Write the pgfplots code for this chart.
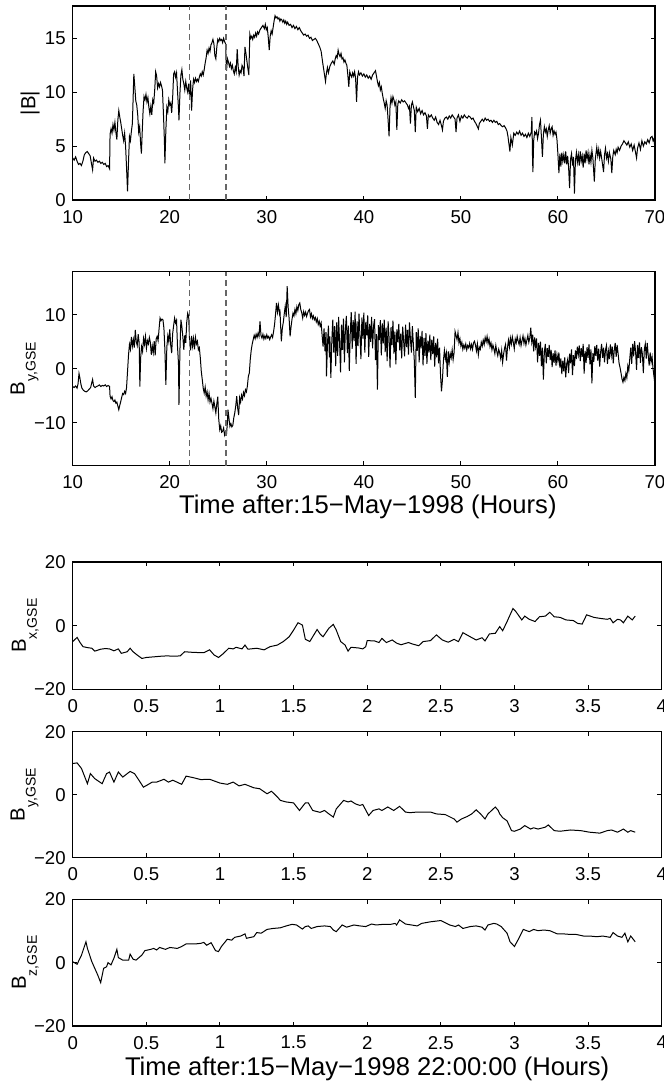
\documentclass[border=0pt]{standalone}
\usepackage{pgfplots}
\pgfplotsset{compat=1.18}
\usepackage{fontspec}
\setmainfont{Liberation Sans}

% B with a MATLAB-style lowered subscript
\newcommand{\Bsub}[1]{B\raisebox{-5.5pt}{\fontsize{7}{8}\selectfont #1}}

\pgfplotsset{
  panel/.style={
    scale only axis, anchor=north west,
    axis line style={line width=0.6pt},
    every tick/.style={black, line width=0.5pt},
    major tick length=2.2pt,
    tick align=inside, tick pos=both,
    tick label style={font=\fontsize{9.3}{10}\selectfont},
    xticklabel style={yshift=-1.5pt},
    /pgf/number format/assume math mode=true,
    label style={font=\fontsize{10.2}{12}\selectfont},
    ylabel style={anchor=south, inner sep=0pt},
    xlabel style={font=\fontsize{12.8}{14}\selectfont, at={(axis description cs:0.5,0)}, anchor=base},
  },
  trace/.style={black, line width=0.5pt, no markers},
  marker line/.style={black!60, line width=0.6pt, dash pattern=on 3pt off 2pt},
}

\begin{document}
\begin{tikzpicture}

% ---- |B| ----
\begin{axis}[panel, at={(36.35pt,-3pt)}, width=291.15pt, height=97pt,
  xmin=10, xmax=70, ymin=0, ymax=18,
  xtick={10,20,30,40,50,60,70}, ytick={0,5,10,15},
  ylabel={|B|}, ylabel style={at={(axis description cs:-0.056,0.5)}}]
\addplot[trace] coordinates {
(10.0,3.9)(10.15,3.7)(10.3,4.0)(10.45,3.6)(10.6,3.3)(10.75,3.4)(10.9,3.2)(11.05,3.6)(11.2,4.2)(11.35,4.4)
(11.5,4.5)(11.65,4.3)(11.8,4.1)(11.95,3.3)(12.05,2.8)(12.15,3.9)(12.3,3.6)(12.45,3.7)(12.6,3.5)(12.75,3.6)
(12.9,3.4)(13.05,3.5)(13.2,3.3)(13.35,3.4)(13.5,3.1)(13.65,3.2)(13.8,2.9)(13.85,6.1)(13.95,6.6)(14.05,6.2)
(14.15,7.0)(14.25,6.5)(14.35,7.2)(14.45,6.3)(14.55,5.6)(14.65,7.4)(14.75,8.3)(14.85,7.7)(14.95,7.2)(15.05,6.6)
(15.15,6.0)(15.25,5.5)(15.35,6.2)(15.45,5.0)(15.55,3.0)(15.65,0.8)(15.75,3.5)(15.85,5.9)(15.95,5.5)(16.05,6.4)
(16.15,7.1)(16.3,11.7)(16.4,10.5)(16.5,9.2)(16.6,8.8)(16.7,7.9)(16.8,6.3)(16.9,6.8)(17.0,5.2)(17.08,4.3)
(17.15,6.0)(17.25,8.2)(17.35,9.6)(17.45,9.3)(17.55,9.8)(17.65,9.1)(17.75,9.5)(17.85,8.6)(17.95,8.0)(18.05,8.7)
(18.15,7.9)(18.25,9.3)(18.35,9.0)(18.45,10.2)(18.55,11.9)(18.65,11.5)(18.75,10.4)(18.85,10.8)(18.95,10.5)(19.05,10.9)
(19.15,10.6)(19.25,10.2)(19.35,8.0)(19.45,5.5)(19.5,3.4)(19.6,6.5)(19.7,8.6)(19.8,8.2)(19.9,9.3)(20.0,8.8)
(20.1,9.0)(20.2,8.1)(20.3,9.5)(20.4,11.7)(20.5,11.9)(20.6,11.4)(20.7,11.8)(20.8,10.1)(20.9,8.5)(20.95,7.4)
(21.05,9.9)(21.15,11.6)(21.25,12.1)(21.35,11.2)(21.45,10.8)(21.55,10.2)(21.65,11.0)(21.75,10.4)(21.85,10.0)(21.95,10.8)
(22.05,9.6)(22.15,11.1)(22.25,8.3)(22.35,10.2)(22.45,11.2)(22.55,10.9)(22.65,11.3)(22.75,11.0)(22.85,11.2)(22.95,11.0)
(23.05,11.4)(23.15,11.7)(23.25,11.5)(23.35,11.9)(23.45,11.6)(23.55,12.1)(23.65,12.7)(23.75,13.2)(23.85,13.9)(23.95,13.6)
(24.05,14.1)(24.15,13.8)(24.25,14.4)(24.35,14.6)(24.45,14.9)(24.55,14.5)(24.65,13.4)(24.75,13.1)(24.85,14.2)(24.95,14.9)
(25.05,14.7)(25.15,15.0)(25.25,14.8)(25.35,14.9)(25.45,14.6)(25.55,15.0)(25.65,14.7)(25.75,14.5)(25.85,12.0)(25.95,13.1)
(26.05,12.8)(26.15,12.4)(26.25,12.7)(26.35,12.2)(26.45,12.5)(26.55,12.0)(26.65,11.7)(26.75,12.3)(26.85,11.9)(26.95,14.0)
(27.05,12.4)(27.15,11.6)(27.25,12.0)(27.35,11.8)(27.45,12.5)(27.55,12.3)(27.65,11.5)(27.75,14.2)(27.85,13.6)(27.95,12.9)
(28.05,12.2)(28.15,11.6)(28.25,15.4)(28.35,15.0)(28.45,15.2)(28.55,14.9)(28.65,15.3)(28.75,15.1)(28.85,15.5)(28.95,15.2)
(29.05,15.6)(29.15,15.4)(29.3,15.8)(29.45,16.0)(29.6,16.2)(29.75,15.9)(29.85,16.3)(29.95,15.8)(30.05,16.0)(30.15,15.1)
(30.25,13.9)(30.35,15.2)(30.45,15.7)(30.55,15.4)(30.65,16.0)(30.75,16.6)(30.85,17.1)(30.95,16.9)(31.05,17.0)(31.15,16.8)
(31.25,16.9)(31.35,16.6)(31.45,16.8)(31.55,16.7)(31.65,16.5)(31.75,16.7)(31.85,16.4)(31.95,16.6)(32.05,16.3)(32.15,16.5)
(32.3,16.2)(32.45,16.3)(32.6,16.0)(32.75,16.2)(32.9,15.9)(33.05,16.1)(33.2,15.8)(33.35,16.0)(33.5,15.7)(33.65,15.5)
(33.8,15.3)(33.95,15.4)(34.1,15.2)(34.25,15.3)(34.4,15.0)(34.55,15.1)(34.7,14.8)(34.85,14.9)(35.0,15.0)(35.15,14.8)
(35.3,14.5)(35.45,14.2)(35.6,13.8)(35.75,12.8)(35.85,12.2)(35.95,11.6)(36.05,11.0)(36.15,11.8)(36.25,12.3)(36.35,11.8)
(36.5,12.4)(36.65,12.7)(36.8,12.9)(36.95,12.6)(37.05,13.1)(37.15,13.4)(37.25,13.2)(37.35,13.9)(37.45,13.5)(37.55,13.3)
(37.65,13.6)(37.75,13.1)(37.85,13.2)(37.95,12.8)(38.05,13.0)(38.15,12.7)(38.25,12.5)(38.35,11.6)(38.45,10.5)(38.55,11.9)
(38.65,11.6)(38.75,11.4)(38.85,11.8)(38.95,11.5)(39.05,11.9)(39.15,11.3)(39.25,9.1)(39.35,11.4)(39.45,11.9)(39.55,11.6)
(39.7,11.8)(39.85,11.5)(40.0,11.7)(40.15,11.4)(40.3,11.6)(40.45,11.3)(40.6,11.5)(40.75,11.2)(40.9,11.6)(41.05,11.8)
(41.2,12.0)(41.3,11.5)(41.4,11.0)(41.5,10.6)(41.6,10.9)(41.7,10.2)(41.8,10.5)(41.9,9.9)(42.0,9.4)(42.1,9.0)
(42.2,8.5)(42.3,9.2)(42.4,8.8)(42.5,7.4)(42.6,5.9)(42.7,8.7)(42.8,9.5)(42.9,9.0)(43.0,9.6)(43.1,9.3)
(43.2,8.8)(43.3,9.1)(43.4,6.5)(43.5,8.9)(43.6,9.2)(43.75,9.0)(43.9,9.3)(44.05,9.1)(44.2,9.2)(44.35,9.0)
(44.5,8.8)(44.6,8.5)(44.7,8.7)(44.8,7.1)(44.9,8.8)(45.0,9.1)(45.1,8.7)(45.2,8.3)(45.3,6.3)(45.4,8.6)
(45.55,8.2)(45.7,8.5)(45.85,8.0)(46.0,8.3)(46.15,7.9)(46.3,8.1)(46.45,7.8)(46.55,6.6)(46.65,7.9)(46.8,7.7)
(46.95,7.9)(47.1,7.6)(47.25,7.4)(47.4,7.7)(47.55,7.2)(47.7,7.0)(47.85,7.4)(48.0,6.9)(48.1,6.5)(48.2,7.3)
(48.35,7.6)(48.5,7.7)(48.65,7.5)(48.8,7.8)(48.95,7.6)(49.1,7.9)(49.25,7.7)(49.4,7.5)(49.5,6.3)(49.6,7.6)
(49.75,7.9)(49.9,7.3)(50.05,7.8)(50.2,7.6)(50.35,7.9)(50.5,7.7)(50.65,7.6)(50.8,7.8)(50.95,7.7)(51.1,7.5)
(51.25,7.6)(51.4,7.3)(51.55,7.1)(51.7,6.8)(51.8,6.6)(51.9,7.1)(52.05,7.3)(52.2,7.5)(52.35,7.3)(52.5,7.6)
(52.65,7.4)(52.8,7.5)(52.95,7.3)(53.1,7.4)(53.25,7.2)(53.4,7.4)(53.55,7.2)(53.7,7.3)(53.85,7.0)(54.0,7.1)
(54.15,6.9)(54.3,6.8)(54.45,6.9)(54.6,6.7)(54.75,6.4)(54.85,5.9)(54.95,5.2)(55.05,4.5)(55.15,5.8)(55.3,5.1)
(55.45,6.2)(55.6,6.0)(55.75,6.3)(55.9,6.1)(56.05,6.4)(56.2,6.0)(56.35,6.2)(56.5,5.9)(56.65,6.1)(56.8,5.8)
(56.95,6.2)(57.1,5.9)(57.25,6.3)(57.32,7.7)(57.38,4.0)(57.42,2.6)(57.5,5.5)(57.6,6.3)(57.7,6.1)(57.8,6.4)
(57.9,5.7)(58.0,6.2)(58.1,7.0)(58.2,7.4)(58.3,5.8)(58.4,4.0)(58.5,6.1)(58.6,6.8)(58.7,6.3)(58.8,6.6)
(58.9,5.9)(59.0,6.5)(59.1,6.9)(59.2,6.2)(59.3,6.6)(59.4,6.8)(59.5,6.0)(59.6,6.4)(59.7,6.1)(59.8,6.3)
(59.9,5.6)(60.0,4.2)(60.1,2.5)(60.2,4.3)(60.3,3.1)(60.4,4.4)(60.5,3.6)(60.6,4.2)(60.7,3.4)(60.8,4.5)
(60.9,3.3)(61.0,4.1)(61.1,3.0)(61.2,1.1)(61.3,3.8)(61.4,4.3)(61.5,3.2)(61.6,4.0)(61.7,0.6)(61.8,3.6)
(61.9,4.4)(62.0,3.5)(62.1,4.2)(62.2,3.2)(62.3,4.5)(62.4,3.6)(62.5,4.1)(62.6,3.0)(62.7,4.3)(62.8,3.4)
(62.9,4.6)(63.0,3.8)(63.1,4.4)(63.2,3.3)(63.3,4.2)(63.4,3.5)(63.5,4.6)(63.6,3.9)(63.75,1.7)(63.85,3.8)
(64.0,4.9)(64.1,4.1)(64.2,4.7)(64.3,3.9)(64.4,4.5)(64.55,3.6)(64.7,2.6)(64.8,4.2)(64.9,4.8)(65.0,3.9)
(65.1,4.3)(65.2,3.6)(65.3,4.4)(65.45,3.8)(65.55,2.5)(65.65,4.0)(65.75,4.6)(65.9,4.2)(66.0,4.7)(66.1,4.4)
(66.2,4.9)(66.35,4.6)(66.5,5.0)(66.65,5.2)(66.8,5.5)(66.95,5.3)(67.1,5.1)(67.25,5.4)(67.4,4.9)(67.55,5.2)
(67.7,4.6)(67.85,5.1)(68.0,4.4)(68.1,3.9)(68.2,4.8)(68.35,5.3)(68.5,4.7)(68.65,5.5)(68.8,5.0)(68.95,5.4)
(69.1,5.2)(69.25,5.6)(69.4,5.3)(69.55,5.8)(69.7,5.9)(69.8,5.5)(69.9,5.7)(70.0,4.6)
};
\addplot[marker line] coordinates {(22,0) (22,18)};
\addplot[marker line] coordinates {(25.8,0) (25.8,18)};
\end{axis}

% ---- By, GSE (long interval) ----
\begin{axis}[panel, at={(36.35pt,-135.85pt)}, width=291.15pt, height=97pt,
  xmin=10, xmax=70, ymin=-18, ymax=18,
  xtick={10,20,30,40,50,60,70}, ytick={-10,0,10}, yticklabels={−10,0,10},
  ylabel={\Bsub{y,GSE}}, ylabel style={at={(axis description cs:-0.058,0.5)}},
  xlabel={Time after:15−May−1998 (Hours)}, xlabel style={yshift=-23.8pt, xshift=2pt}]
\addplot[trace] coordinates {
(10.0,-3.3)(10.15,-3.5)(10.3,-3.2)(10.45,-3.6)(10.55,-2.8)(10.65,-0.9)(10.75,-1.8)(10.85,-2.9)(10.95,-3.6)(11.1,-4.0)
(11.25,-4.2)(11.4,-4.3)(11.55,-4.1)(11.7,-3.8)(11.85,-3.5)(11.95,-2.7)(12.05,-2.0)(12.15,-3.2)(12.3,-3.5)(12.45,-3.3)
(12.6,-3.2)(12.75,-3.0)(12.9,-3.3)(13.05,-3.1)(13.2,-3.2)(13.35,-3.0)(13.5,-3.3)(13.65,-3.1)(13.8,-3.3)(13.85,-5.1)
(13.95,-5.6)(14.05,-5.2)(14.15,-5.9)(14.25,-6.1)(14.35,-5.8)(14.45,-6.4)(14.55,-6.2)(14.65,-6.9)(14.75,-7.6)(14.85,-6.8)
(14.95,-6.1)(15.05,-5.3)(15.15,-4.6)(15.25,-4.8)(15.35,-4.2)(15.45,-4.6)(15.55,-3.5)(15.65,-0.5)(15.75,2.5)(15.85,4.5)
(15.95,3.6)(16.05,5.9)(16.15,4.2)(16.25,5.4)(16.35,3.9)(16.45,7.2)(16.55,5.0)(16.65,4.3)(16.75,6.4)(16.85,4.8)
(16.92,-3.3)(17.0,2.0)(17.1,4.1)(17.2,3.2)(17.3,5.6)(17.4,4.5)(17.5,6.0)(17.6,3.8)(17.7,5.2)(17.8,4.6)
(17.9,5.8)(18.0,4.9)(18.1,2.6)(18.2,4.2)(18.3,3.0)(18.4,5.1)(18.5,2.5)(18.6,5.5)(18.7,6.0)(18.8,5.2)
(18.9,7.4)(19.0,9.4)(19.1,8.9)(19.2,9.2)(19.3,9.1)(19.4,7.5)(19.5,3.5)(19.6,-3.0)(19.7,4.0)(19.8,6.1)
(19.9,5.0)(20.0,7.3)(20.1,4.4)(20.2,2.9)(20.3,6.5)(20.4,8.0)(20.5,9.4)(20.6,8.5)(20.7,9.0)(20.8,4.1)
(20.9,1.0)(20.95,-6.7)(21.05,3.5)(21.15,9.1)(21.25,7.8)(21.35,5.9)(21.45,3.5)(21.55,6.2)(21.65,4.8)(21.75,8.6)
(21.85,10.3)(21.95,9.7)(22.05,5.0)(22.15,3.4)(22.25,6.1)(22.35,4.2)(22.45,5.6)(22.55,3.6)(22.65,5.8)(22.75,4.6)
(22.85,5.1)(22.95,3.5)(23.05,3.9)(23.15,2.0)(23.25,-0.5)(23.35,-2.0)(23.45,-3.6)(23.55,-4.5)(23.65,-3.4)(23.75,-5.1)
(23.85,-4.3)(23.95,-5.8)(24.05,-4.6)(24.15,-6.2)(24.25,-5.5)(24.35,-6.4)(24.45,-7.4)(24.55,-6.0)(24.65,-7.1)(24.75,-8.2)
(24.85,-6.5)(24.95,-5.2)(25.05,-9.4)(25.15,-11.3)(25.25,-10.6)(25.35,-11.8)(25.45,-11.6)(25.55,-11.0)(25.65,-12.3)(25.75,-11.7)
(25.85,-12.1)(25.95,-9.8)(26.0,-7.6)(26.1,-9.2)(26.2,-10.7)(26.3,-10.2)(26.4,-10.8)(26.5,-10.5)(26.6,-9.1)(26.7,-8.2)
(26.8,-6.9)(26.9,-5.1)(27.0,-7.3)(27.1,-8.6)(27.2,-5.4)(27.3,-6.2)(27.4,-4.9)(27.5,-5.6)(27.6,-4.4)(27.7,-5.0)
(27.8,-3.9)(27.9,-4.3)(28.0,-3.2)(28.1,-1.4)(28.2,-0.8)(28.3,1.8)(28.4,3.5)(28.5,4.6)(28.6,5.4)(28.7,6.2)
(28.8,5.6)(28.9,6.4)(29.0,5.8)(29.1,6.6)(29.2,6.0)(29.3,8.8)(29.4,6.2)(29.5,5.7)(29.6,6.4)(29.7,5.5)
(29.8,6.1)(29.9,5.6)(30.0,6.3)(30.1,5.7)(30.2,6.0)(30.3,5.4)(30.4,5.9)(30.5,6.3)(30.6,5.8)(30.7,6.9)
(30.8,8.2)(30.9,10.1)(31.0,12.2)(31.1,10.5)(31.2,11.8)(31.3,10.4)(31.35,11.0)(31.45,7.0)(31.5,5.1)(31.6,7.5)
(31.7,8.6)(31.8,10.2)(31.9,11.6)(32.0,9.6)(32.1,15.3)(32.2,11.4)(32.3,9.3)(32.4,6.0)(32.5,7.8)(32.6,9.2)
(32.7,10.3)(32.8,9.8)(32.9,11.0)(33.0,10.2)(33.1,11.5)(33.2,10.8)(33.3,11.9)(33.4,12.2)(33.5,11.0)(33.6,10.4)
(33.7,9.4)(33.8,10.6)(33.9,9.9)(34.0,10.5)(34.1,9.7)(34.2,10.3)(34.3,10.8)(34.4,11.0)(34.5,9.6)(34.6,10.2)
(34.7,9.3)(34.8,9.8)(34.9,9.1)(35.0,9.5)(35.1,8.7)(35.2,9.3)(35.3,8.2)(35.4,8.8)(35.5,7.9)(35.6,8.5)
(35.7,6.2)(35.8,4.1)(35.9,7.5)(36.0,3.2)(36.1,6.8)(36.15,-1.4)(36.25,4.5)(36.35,8.0)(36.45,2.1)(36.5,6.0)
(36.6,-1.7)(36.7,5.2)(36.8,9.1)(36.9,3.0)(37.0,7.9)(37.1,0.5)(37.2,8.6)(37.3,2.4)(37.4,9.6)(37.5,4.8)
(37.6,-0.7)(37.7,8.2)(37.8,3.5)(37.9,9.3)(38.0,1.2)(38.1,7.4)(38.2,9.8)(38.3,2.9)(38.4,8.0)(38.5,-0.4)
(38.6,6.6)(38.7,10.5)(38.8,3.7)(38.9,9.0)(39.0,5.1)(39.1,10.6)(39.2,0.9)(39.3,8.8)(39.4,4.2)(39.5,10.2)
(39.6,6.1)(39.7,1.8)(39.8,9.5)(39.9,5.6)(40.0,10.4)(40.1,3.0)(40.2,8.7)(40.3,6.2)(40.4,9.9)(40.5,2.2)
(40.6,8.3)(40.7,5.0)(40.8,9.6)(40.9,3.8)(41.0,7.9)(41.1,9.2)(41.2,1.6)(41.3,6.4)(41.4,-3.9)(41.5,8.1)
(41.6,5.3)(41.7,9.0)(41.8,2.5)(41.9,8.4)(42.0,4.7)(42.1,9.1)(42.2,3.1)(42.3,7.6)(42.4,1.4)(42.5,8.8)
(42.6,5.8)(42.7,0.2)(42.8,7.7)(42.9,4.4)(43.0,8.9)(43.1,2.8)(43.2,6.9)(43.3,0.8)(43.4,7.3)(43.5,4.9)
(43.6,8.3)(43.7,3.4)(43.8,6.5)(43.9,1.9)(44.0,7.8)(44.1,5.1)(44.2,2.3)(44.3,8.2)(44.4,4.0)(44.5,7.2)
(44.6,2.6)(44.7,8.6)(44.8,5.5)(44.9,3.0)(45.0,7.9)(45.1,4.6)(45.2,1.5)(45.3,-5.4)(45.4,6.8)(45.5,3.3)
(45.6,7.5)(45.7,1.2)(45.8,6.1)(45.9,3.8)(46.0,7.0)(46.1,0.6)(46.2,5.7)(46.3,2.4)(46.4,6.6)(46.5,0.9)
(46.6,5.2)(46.7,3.0)(46.8,6.3)(46.9,1.6)(47.0,5.4)(47.1,2.7)(47.2,6.0)(47.3,0.4)(47.4,4.8)(47.5,2.1)
(47.6,5.6)(47.7,1.0)(47.8,3.9)(47.9,-1.1)(48.0,-4.2)(48.1,-2.0)(48.2,1.5)(48.3,3.4)(48.4,1.8)(48.5,2.9)
(48.6,-1.5)(48.7,3.2)(48.8,1.2)(48.9,2.8)(49.0,2.0)(49.1,3.5)(49.2,1.7)(49.3,3.0)(49.4,6.9)(49.5,6.2)
(49.6,5.4)(49.7,6.7)(49.8,4.8)(49.9,5.6)(50.0,4.2)(50.1,4.9)(50.2,3.6)(50.3,4.4)(50.4,3.8)(50.5,4.6)
(50.6,3.5)(50.7,4.3)(50.8,3.9)(50.9,4.7)(51.0,3.7)(51.1,4.5)(51.2,3.6)(51.3,4.8)(51.4,5.1)(51.5,4.4)
(51.6,3.3)(51.7,4.6)(51.8,2.6)(51.9,4.0)(52.0,3.6)(52.1,4.9)(52.2,4.2)(52.3,5.3)(52.4,4.5)(52.5,5.8)
(52.6,5.0)(52.7,6.0)(52.8,4.7)(52.9,5.5)(53.0,4.1)(53.1,4.8)(53.2,3.5)(53.3,4.4)(53.4,3.7)(53.5,2.8)
(53.6,4.3)(53.7,3.2)(53.8,2.4)(53.9,3.6)(54.0,2.9)(54.1,1.9)(54.2,3.4)(54.3,1.2)(54.4,2.7)(54.5,3.8)
(54.6,4.5)(54.7,1.5)(54.8,3.9)(54.9,5.3)(55.0,4.0)(55.1,5.7)(55.2,4.6)(55.3,5.9)(55.4,4.9)(55.5,3.7)
(55.6,5.5)(55.7,4.8)(55.8,6.0)(55.9,5.1)(56.0,4.5)(56.1,5.8)(56.2,4.3)(56.3,5.2)(56.4,6.1)(56.5,4.7)
(56.6,5.6)(56.7,4.4)(56.8,5.3)(56.9,6.2)(57.0,4.9)(57.1,5.7)(57.2,7.6)(57.3,5.0)(57.4,6.3)(57.5,3.2)
(57.6,5.8)(57.7,4.1)(57.8,5.6)(57.9,1.2)(58.0,4.8)(58.1,2.4)(58.2,5.0)(58.3,0.5)(58.4,3.9)(58.5,-2.0)
(58.6,3.1)(58.7,4.6)(58.8,1.0)(58.9,3.8)(59.0,2.2)(59.1,4.4)(59.2,1.6)(59.3,3.5)(59.4,0.3)(59.5,2.9)
(59.6,1.1)(59.7,3.4)(59.8,0.6)(59.9,2.6)(60.0,1.4)(60.1,3.0)(60.2,0.2)(60.3,1.9)(60.4,-1.0)(60.5,1.5)
(60.6,-0.5)(60.7,2.1)(60.8,-1.6)(60.9,0.9)(61.0,1.7)(61.1,-0.8)(61.2,2.8)(61.3,1.0)(61.4,3.6)(61.5,-1.2)
(61.6,2.5)(61.7,0.5)(61.8,3.4)(61.9,1.8)(62.0,4.1)(62.1,2.6)(62.2,4.3)(62.3,1.4)(62.4,3.8)(62.5,2.2)
(62.6,4.6)(62.7,-0.9)(62.8,3.3)(62.9,1.1)(63.0,4.0)(63.1,2.0)(63.2,4.5)(63.3,0.8)(63.4,3.6)(63.5,-2.7)
(63.6,2.9)(63.7,1.3)(63.8,4.2)(63.9,2.4)(64.0,4.4)(64.1,1.5)(64.2,3.7)(64.3,0.4)(64.4,3.1)(64.5,4.6)
(64.6,2.0)(64.7,3.9)(64.8,1.2)(64.9,3.5)(65.0,4.3)(65.1,0.9)(65.2,3.2)(65.3,1.8)(65.4,4.5)(65.5,2.5)
(65.6,4.1)(65.7,1.0)(65.8,3.4)(65.9,4.8)(66.0,2.2)(66.1,4.4)(66.2,2.8)(66.3,1.0)(66.4,0.2)(66.5,-0.8)
(66.6,-1.9)(66.7,-2.5)(66.8,-1.6)(66.9,-2.2)(67.0,-0.9)(67.1,-1.7)(67.2,0.5)(67.3,-0.4)(67.4,1.8)(67.5,3.9)
(67.6,0.9)(67.7,4.6)(67.8,2.3)(67.9,5.1)(68.0,3.2)(68.1,-0.2)(68.2,4.4)(68.3,2.0)(68.4,4.9)(68.5,1.1)
(68.6,4.0)(68.7,2.7)(68.8,-0.8)(68.9,3.6)(69.0,4.6)(69.1,1.9)(69.2,4.8)(69.3,2.5)(69.4,0.6)(69.5,3.0)
(69.6,1.2)(69.7,2.2)(69.8,0.0)(69.9,-1.5)(70.0,-3.0)
};
\addplot[marker line] coordinates {(22,-18) (22,18)};
\addplot[marker line] coordinates {(25.8,-18) (25.8,18)};
\end{axis}

% ---- Bx, GSE ----
\begin{axis}[panel, at={(36.35pt,-281pt)}, width=294.5pt, height=63.65pt,
  xmin=0, xmax=4, ymin=-20, ymax=20,
  xtick={0,0.5,1,1.5,2,2.5,3,3.5,4}, xticklabels={0,0.5,1,1.5,2,2.5,3,3.5,4},
  ytick={-20,0,20}, yticklabels={−20,0,20},
  ylabel={\Bsub{x,GSE}}, ylabel style={at={(axis description cs:-0.0572,0.5)}}]
\addplot[trace] coordinates {
(0.00,-5.0)(0.03,-3.7)(0.05,-5.3)(0.07,-6.6)(0.10,-6.9)(0.13,-7.1)(0.15,-8.0)(0.19,-7.4)(0.22,-7.2)(0.25,-7.3)
(0.28,-7.9)(0.31,-7.3)(0.33,-8.7)(0.37,-8.2)(0.39,-7.1)(0.41,-8.2)(0.44,-9.3)(0.47,-10.3)(0.50,-10.0)(0.55,-9.8)
(0.60,-9.6)(0.64,-9.5)(0.69,-9.6)(0.73,-9.5)(0.76,-8.2)(0.82,-8.4)(0.89,-8.5)(0.93,-7.6)(0.96,-9.2)(0.99,-10.0)
(1.02,-8.9)(1.06,-7.1)(1.09,-7.3)(1.11,-6.8)(1.15,-7.3)(1.17,-6.1)(1.19,-7.4)(1.25,-7.1)(1.30,-7.6)(1.34,-6.6)
(1.39,-6.1)(1.43,-5.0)(1.47,-3.5)(1.50,-1.4)(1.53,0.9)(1.56,0.2)(1.58,-4.3)(1.61,-5.0)(1.66,-1.2)(1.68,-2.6)
(1.70,-3.5)(1.74,-0.8)(1.77,0.4)(1.79,-1.4)(1.82,-5.0)(1.85,-6.1)(1.87,-8.0)(1.89,-6.8)(1.94,-7.0)(1.97,-7.3)
(1.99,-6.6)(2.00,-4.7)(2.05,-4.8)(2.08,-5.3)(2.10,-4.0)(2.13,-5.3)(2.17,-4.5)(2.20,-5.5)(2.23,-6.0)(2.28,-5.3)
(2.31,-5.8)(2.35,-6.3)(2.38,-5.0)(2.43,-4.7)(2.47,-2.9)(2.51,-4.5)(2.55,-5.2)(2.59,-4.3)(2.62,-5.0)(2.65,-2.2)
(2.70,-3.5)(2.74,-4.5)(2.78,-3.8)(2.80,-4.8)(2.83,-2.6)(2.87,-2.4)(2.90,-0.3)(2.92,-1.6)(2.95,1.3)(2.99,5.4)
(3.01,4.4)(3.05,1.8)(3.07,3.0)(3.10,2.0)(3.14,1.3)(3.17,2.8)(3.21,3.0)(3.24,4.2)(3.27,2.8)(3.31,2.6)
(3.35,1.8)(3.40,1.6)(3.43,0.7)(3.46,0.5)(3.49,3.4)(3.54,2.6)(3.58,2.3)(3.63,2.0)(3.65,2.3)(3.67,0.9)
(3.70,2.0)(3.72,1.8)(3.74,0.9)(3.77,3.0)(3.80,1.8)(3.82,3.0)
};
\end{axis}

% ---- By, GSE ----
\begin{axis}[panel, at={(36.35pt,-365.85pt)}, width=294.5pt, height=63pt,
  xmin=0, xmax=4, ymin=-20, ymax=20,
  xtick={0,0.5,1,1.5,2,2.5,3,3.5,4}, xticklabels={0,0.5,1,1.5,2,2.5,3,3.5,4},
  ytick={-20,0,20}, yticklabels={−20,0,20},
  ylabel={\Bsub{y,GSE}}, ylabel style={at={(axis description cs:-0.0572,0.5)}}]
\addplot[trace] coordinates {
(0.00,9.9)(0.03,10.1)(0.06,8.3)(0.10,3.5)(0.12,6.7)(0.15,5.1)(0.20,3.5)(0.23,6.7)(0.25,7.2)(0.28,4.0)
(0.31,7.2)(0.34,5.6)(0.39,7.4)(0.42,6.7)(0.45,4.6)(0.48,2.4)(0.50,2.9)(0.54,4.0)(0.57,4.0)(0.62,4.9)
(0.65,4.0)(0.68,4.6)(0.74,3.3)(0.77,5.9)(0.82,5.4)(0.87,4.8)(0.93,4.9)(1.00,3.7)(1.05,3.3)(1.09,4.0)
(1.13,2.8)(1.17,3.3)(1.23,2.2)(1.27,1.9)(1.32,0.3)(1.35,1.1)(1.39,-0.7)(1.41,-1.8)(1.45,-2.3)(1.50,-2.6)
(1.54,-5.0)(1.58,-2.6)(1.60,-2.6)(1.63,-5.0)(1.68,-5.6)(1.71,-5.0)(1.74,-6.1)(1.77,-7.1)(1.79,-4.5)(1.84,-1.8)
(1.87,-2.3)(1.89,-2.0)(1.92,-2.9)(1.95,-3.4)(1.97,-3.1)(2.01,-6.6)(2.04,-5.0)(2.08,-4.5)(2.10,-5.0)(2.14,-3.9)
(2.18,-5.0)(2.22,-3.7)(2.26,-5.5)(2.29,-5.7)(2.34,-5.5)(2.43,-5.5)(2.47,-6.1)(2.53,-6.3)(2.59,-7.7)(2.61,-8.7)
(2.64,-7.7)(2.68,-6.9)(2.71,-6.1)(2.74,-4.8)(2.77,-6.1)(2.80,-7.7)(2.82,-6.1)(2.87,-3.9)(2.89,-5.0)(2.90,-6.1)
(2.92,-7.3)(2.95,-8.3)(2.98,-11.4)(3.00,-11.6)(3.04,-10.9)(3.07,-9.8)(3.11,-10.9)(3.13,-10.5)(3.16,-10.9)(3.21,-10.3)
(3.23,-9.6)(3.27,-11.4)(3.31,-11.6)(3.38,-11.2)(3.45,-11.4)(3.51,-11.9)(3.58,-12.2)(3.63,-11.4)(3.66,-11.2)(3.70,-11.9)
(3.74,-10.9)(3.77,-11.9)(3.79,-11.4)(3.82,-11.9)
};
\end{axis}

% ---- Bz, GSE ----
\begin{axis}[panel, at={(36.35pt,-449.65pt)}, width=294.5pt, height=63.35pt,
  xmin=0, xmax=4, ymin=-20, ymax=20,
  xtick={0,0.5,1,1.5,2,2.5,3,3.5,4}, xticklabels={0,0.5,1,1.5,2,2.5,3,3.5,4},
  ytick={-20,0,20}, yticklabels={−20,0,20},
  ylabel={\Bsub{z,GSE}}, ylabel style={at={(axis description cs:-0.0572,0.5)}},
  xlabel={Time after:15−May−1998 22:00:00 (Hours)}, xlabel style={yshift=-24.5pt}]
\addplot[trace] coordinates {
(0.00,0.3)(0.03,-0.5)(0.06,2.4)(0.09,6.6)(0.10,4.5)(0.13,0.3)(0.15,-1.8)(0.17,-3.9)(0.19,-6.3)(0.21,-1.8)
(0.23,-1.3)(0.24,0.0)(0.26,-0.7)(0.28,1.4)(0.30,4.2)(0.31,1.6)(0.34,0.8)(0.38,0.8)(0.39,2.7)(0.41,1.1)
(0.43,0.8)(0.47,2.4)(0.49,3.8)(0.53,4.2)(0.55,4.5)(0.57,4.0)(0.59,4.8)(0.63,4.2)(0.66,4.8)(0.71,4.5)
(0.74,5.1)(0.77,5.9)(0.83,5.9)(0.87,6.1)(0.89,6.4)(0.91,5.5)(0.94,6.3)(0.97,3.8)(0.99,3.5)(1.01,5.1)
(1.05,7.4)(1.08,7.1)(1.10,8.0)(1.14,8.4)(1.17,9.1)(1.18,7.7)(1.23,8.2)(1.25,9.5)(1.28,9.3)(1.32,10.5)
(1.36,10.8)(1.41,11.0)(1.45,11.6)(1.49,12.1)(1.52,11.9)(1.56,10.6)(1.58,11.4)(1.60,11.6)(1.62,10.8)(1.66,11.4)
(1.71,11.6)(1.75,11.4)(1.77,10.3)(1.79,9.8)(1.83,11.9)(1.86,11.2)(1.91,11.9)(1.95,11.6)(1.99,11.4)(2.03,12.2)
(2.06,11.9)(2.11,12.1)(2.16,12.1)(2.19,12.4)(2.20,11.9)(2.22,13.5)(2.26,12.2)(2.30,11.9)(2.34,11.6)(2.37,12.4)
(2.43,12.9)(2.50,13.3)(2.53,12.6)(2.56,11.9)(2.60,11.4)(2.62,11.9)(2.65,10.8)(2.70,11.4)(2.74,11.6)(2.78,11.2)
(2.80,10.3)(2.82,11.9)(2.86,12.4)(2.88,12.2)(2.91,11.4)(2.95,9.3)(2.97,6.6)(3.00,5.1)(3.03,7.7)(3.06,10.5)
(3.10,9.8)(3.13,10.5)(3.16,10.1)(3.20,10.3)(3.24,10.1)(3.29,9.1)(3.33,9.1)(3.38,8.9)(3.42,8.9)(3.47,8.4)
(3.51,8.4)(3.56,8.2)(3.60,8.4)(3.65,8.0)(3.67,9.5)(3.70,8.4)(3.73,8.0)(3.75,9.3)(3.77,6.6)(3.79,8.4)
(3.82,6.6)
};
\end{axis}

\pgfresetboundingbox
\useasboundingbox (0pt,0pt) rectangle (332pt,-542pt);
\end{tikzpicture}
\end{document}
